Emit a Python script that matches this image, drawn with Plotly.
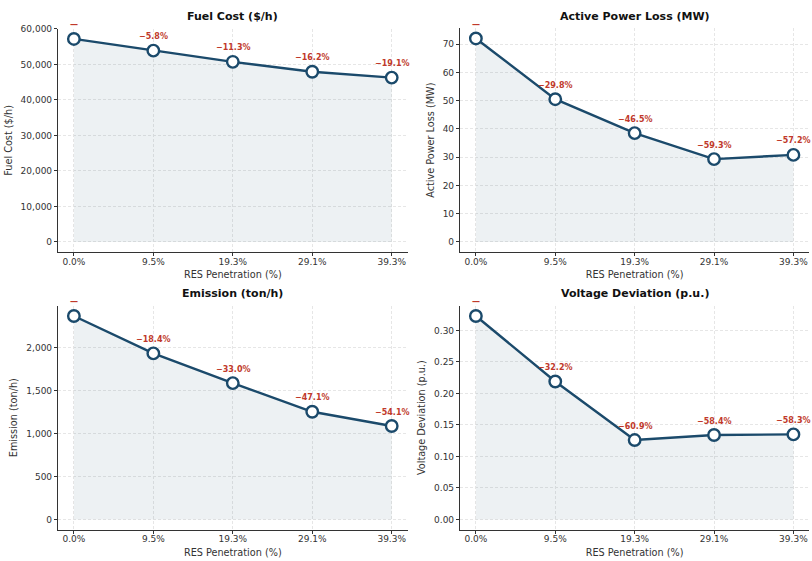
import plotly.graph_objects as go

categories = ["0.0%", "9.5%", "19.3%", "29.1%", "39.3%"]
fuel_cost = [57200, 53900, 50750, 47950, 46300]
power_loss = [72.0, 50.5, 38.5, 29.3, 30.8]
emission = [2370, 1934, 1588, 1254, 1088]
voltage_dev = [0.323, 0.219, 0.126, 0.134, 0.135]
fuel_labels = ["—", "−5.8%", "−11.3%", "−16.2%", "−19.1%"]
loss_labels = ["—", "−29.8%", "−46.5%", "−59.3%", "−57.2%"]
emis_labels = ["—", "−18.4%", "−33.0%", "−47.1%", "−54.1%"]
volt_labels = ["—", "−32.2%", "−60.9%", "−58.4%", "−58.3%"]

titles = ["Fuel Cost ($/h)", "Active Power Loss (MW)", "Emission (ton/h)", "Voltage Deviation (p.u.)"]
ytitles = ["Fuel Cost ($/h)", "Active Power Loss (MW)", "Emission (ton/h)", "Voltage Deviation (p.u.)"]
series = [fuel_cost, power_loss, emission, voltage_dev]
labels = [fuel_labels, loss_labels, emis_labels, volt_labels]
ytick_steps = [10000, 10, 500, 0.05]
ytick_fmt = [",.0f", ".0f", ",.0f", ".2f"]

W, H = 812, 561
# pixel boxes: (left, right, top, bottom)
boxes = [(58, 407.6, 24.0, 249.3), (460, 809.3, 23.5, 249.3),
         (58, 407.6, 303.5, 529.3), (460, 809.3, 303.5, 529.3)]

LINE = "#1b4a6b"
FONT = "DejaVu Sans"
GRID = "#e6e6e6"
fig = go.Figure()
annotations = []
xi = list(range(len(categories)))
for i in range(4):
    vals = series[i]
    ax = "" if i == 0 else str(i + 1)
    fig.add_trace(go.Scatter(
        x=xi, y=vals, mode="lines+markers",
        line=dict(color=LINE, width=2.4),
        marker=dict(size=11.5, color="white", line=dict(color=LINE, width=2.4)),
        fill="tozeroy", fillcolor="rgba(27,74,107,0.08)",
        xaxis="x" + ax, yaxis="y" + ax, showlegend=False, hoverinfo="skip"))
    l, r, t, b = boxes[i]
    vmax = max(vals)
    lo, hi = -0.05 * vmax, 1.05 * vmax
    fig.layout["xaxis" + ax] = dict(
        domain=[l / W, r / W], range=[-0.2, 4.2], anchor="y" + ax,
        tickmode="array", tickvals=xi, ticktext=categories,
        showline=True, linecolor="#333333", linewidth=1.2,
        ticks="outside", ticklen=3, tickcolor="#333333", ticklabelstandoff=-2,
        showgrid=True, gridcolor=GRID, griddash="3px,2px", gridwidth=0.7,
        zeroline=False, tickfont=dict(family=FONT, size=9, color="#333333"),
        title=dict(text="RES Penetration (%)", standoff=5,
                   font=dict(family=FONT, size=9.7, color="#333333")))
    fig.layout["yaxis" + ax] = dict(
        domain=[1 - b / H, 1 - t / H], range=[lo, hi], anchor="x" + ax,
        dtick=ytick_steps[i], tick0=0, tickformat=ytick_fmt[i],
        showline=True, linecolor="#333333", linewidth=1.2,
        ticks="outside", ticklen=3, tickcolor="#333333",
        showgrid=True, gridcolor=GRID, griddash="3px,2px", gridwidth=0.7,
        zeroline=False, tickfont=dict(family=FONT, size=9, color="#333333"),
        title=dict(text=ytitles[i], standoff=6,
                   font=dict(family=FONT, size=9.7, color="#333333")))
    for j, txt in enumerate(labels[i]):
        annotations.append(dict(
            x=xi[j], y=vals[j], xref="x" + ax, yref="y" + ax, text="<b>%s</b>" % txt,
            showarrow=False, yshift=14, xanchor="center",
            font=dict(family=FONT, size=8, color="#c0392b")))
    annotations.append(dict(
        x=(l + r) / 2 / W, y=1 - (t - 12) / H, xref="paper", yref="paper",
        text="<b>%s</b>" % titles[i], showarrow=False, xanchor="center", yanchor="middle",
        font=dict(family=FONT, size=11, color="#111111")))

fig.update_layout(
    width=W, height=H, margin=dict(l=0, r=0, t=0, b=0),
    paper_bgcolor="white", plot_bgcolor="white",
    annotations=annotations)
fig.write_html("out.html")
